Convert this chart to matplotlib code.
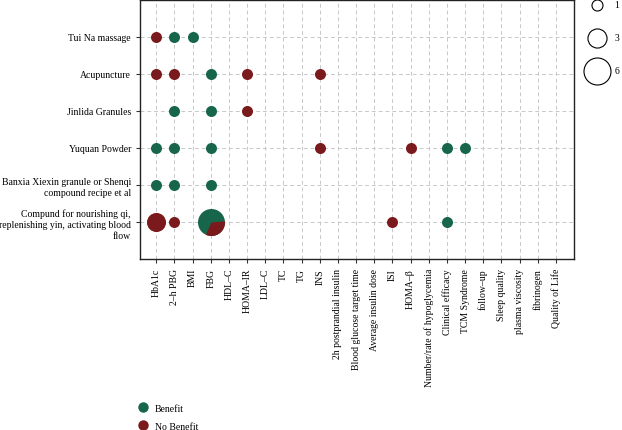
import numpy as np
import matplotlib
matplotlib.use("Agg")
import matplotlib.pyplot as plt
from matplotlib.lines import Line2D

plt.rcParams['font.family'] = ['Liberation Serif', 'DejaVu Serif']

treatments = [
    "Compund for nourishing qi,\nreplenishing yin, activating blood\nflow",
    "Banxia Xiexin granule or Shenqi\ncompound recipe et al",
    "Yuquan Powder",
    "Jinlida Granules",
    "Acupuncture",
    "Tui Na massage",
]
outcomes = [
    "HbA1c", "2\u2013h PBG", "BMI", "FBG", "HDL\u2013C", "HOMA\u2013IR", "LDL\u2013C",
    "TC", "TG", "INS", "2h postprandial insulin", "Blood glucose target time",
    "Average insulin dose", "ISI", "HOMA\u2013\u03b2", "Number/rate of hypoglycemia",
    "Clinical efficacy", "TCM Syndrome", "follow\u2013up", "Sleep quality",
    "plasma viscosity", "fibrinogen", "Quality of Life",
]

# each point: treatment, outcome, number of studies with benefit / no benefit
pt_treatment = [
    "Tui Na massage", "Tui Na massage", "Tui Na massage",
    "Acupuncture", "Acupuncture", "Acupuncture", "Acupuncture", "Acupuncture",
    "Jinlida Granules", "Jinlida Granules", "Jinlida Granules",
    "Yuquan Powder", "Yuquan Powder", "Yuquan Powder", "Yuquan Powder",
    "Yuquan Powder", "Yuquan Powder", "Yuquan Powder",
    "Banxia", "Banxia", "Banxia",
    "Compund", "Compund", "Compund", "Compund", "Compund",
]
pt_outcome = [
    "HbA1c", "2\u2013h PBG", "BMI",
    "HbA1c", "2\u2013h PBG", "FBG", "HOMA\u2013IR", "INS",
    "2\u2013h PBG", "FBG", "HOMA\u2013IR",
    "HbA1c", "2\u2013h PBG", "FBG", "INS", "HOMA\u2013\u03b2", "Clinical efficacy", "TCM Syndrome",
    "HbA1c", "2\u2013h PBG", "FBG",
    "HbA1c", "2\u2013h PBG", "FBG", "ISI", "Clinical efficacy",
]
pt_benefit = [0, 1, 1,
              0, 0, 1, 0, 0,
              1, 1, 0,
              1, 1, 1, 0, 0, 1, 1,
              1, 1, 1,
              0, 0, 4, 0, 1]
pt_nobenefit = [1, 0, 0,
                1, 1, 0, 1, 1,
                0, 0, 1,
                0, 0, 0, 1, 1, 0, 0,
                0, 0, 0,
                3, 1, 2, 1, 0]

size_legend_values = [1, 3, 6]

GREEN = "#17664c"
RED = "#7b1a1c"
S1 = 63.0  # marker area (pt^2) for one study


def row_index(name):
    for i, t in enumerate(treatments):
        if t.startswith(name):
            return i
    raise ValueError(name)


def wedge_marker(a0, a1, n=60):
    ang = np.linspace(np.radians(a0), np.radians(a1), n)
    verts = [(0, 0)] + [(np.cos(a), np.sin(a)) for a in ang] + [(0, 0)]
    return verts


fig = plt.figure(figsize=(6.22, 4.31), dpi=100)
ax = fig.add_axes([0.225, 0.397, 0.698, 0.601])

xs = [outcomes.index(o) for o in pt_outcome]
ys = [row_index(t) for t in pt_treatment]

for x, y, b, nb in zip(xs, ys, pt_benefit, pt_nobenefit):
    total = b + nb
    s = S1 * total
    if nb == 0:
        ax.scatter([x], [y], s=s, color=GREEN, zorder=3, linewidths=0)
    elif b == 0:
        ax.scatter([x], [y], s=s, color=RED, zorder=3, linewidths=0)
    else:
        ax.scatter([x], [y], s=s, color=GREEN, zorder=3, linewidths=0)
        span = 360.0 * nb / total
        start = -115.0
        ax.scatter([x], [y], s=s, color=RED, zorder=4, linewidths=0,
                   marker=wedge_marker(start, start + span))

ax.set_xlim(-0.9, len(outcomes))
ax.set_ylim(-1, len(treatments))
ax.set_xticks(range(len(outcomes)))
ax.set_xticklabels(outcomes, rotation=90, fontsize=7)
ax.set_yticks(range(len(treatments)))
ax.set_yticklabels(treatments, fontsize=7, ha="right", multialignment="right",
                   linespacing=1.35)
ax.tick_params(length=3, width=0.8, color="#333333")
ax.grid(True, color="#c8c8c8", linestyle=(0, (4, 3)), linewidth=0.7)
ax.set_axisbelow(True)
for sp in ax.spines.values():
    sp.set_linewidth(1.0)
    sp.set_color("#222222")

# size legend
size_handles = [plt.scatter([], [], s=S1 * v, facecolor="white", edgecolor="black", linewidths=0.8)
                for v in size_legend_values]
fig.legend(size_handles, [str(v) for v in size_legend_values], loc="upper left",
           bbox_to_anchor=(0.930, 1.017), frameon=False, fontsize=7,
           labelspacing=2.45, handletextpad=0.8, scatterpoints=1)

# colour legend
col_handles = [
    Line2D([], [], marker="o", linestyle="none", markersize=7.5, markerfacecolor=GREEN, markeredgewidth=0),
    Line2D([], [], marker="o", linestyle="none", markersize=7.5, markerfacecolor=RED, markeredgewidth=0),
]
fig.legend(col_handles, ["Benefit", "No Benefit"], loc="upper left",
           bbox_to_anchor=(0.208, 0.081), frameon=False, fontsize=7,
           labelspacing=0.9, handlelength=1.0, handletextpad=0.7)

fig.savefig("out.png", dpi=100)
